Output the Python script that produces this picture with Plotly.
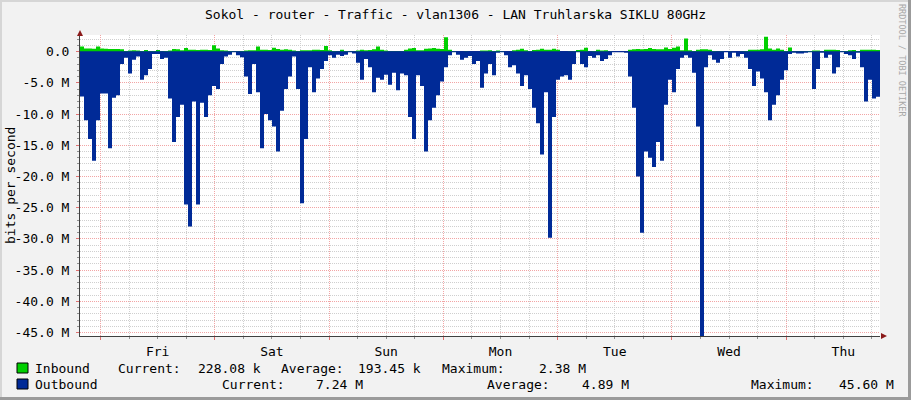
import pandas as pd
import plotly.graph_objects as go

# one week, 200 samples (values in Mbit/s)
START = '2024-01-04 19:42'
STEP = '3024s'

inbound = [
    0.8, 0.5, 0.5, 0.45, 0.8, 0.5, 0.45, 0.4, 0.4, 0.4,
    0.35, 0.1, 0.15, 0.2, 0.15, 0.1, 0.25, 0.1, 0.1, 0.25,
    0.05, 0.1, 0.15, 0.4, 0.35, 0.2, 0.55, 0.3, 0.3, 0.25,
    0.3, 0.3, 0.25, 1.0, 0.5, 0.2, 0.15, 0.1, 0.05, 0.05,
    0.1, 0.15, 0.2, 0.2, 0.8, 0.3, 0.3, 0.25, 0.6, 0.4,
    0.3, 0.35, 0.3, 0.15, 0.1, 0.2, 0.2, 0.2, 0.3, 0.3,
    0.25, 0.9, 0.2, 0.1, 0.05, 0.3, 0.1, 0.05, 0.05, 0.15,
    0.3, 0.2, 0.25, 0.35, 0.8, 0.3, 0.15, 0.05, 0.05, 0.05,
    0.05, 0.3, 0.5, 0.55, 0.2, 0.2, 0.45, 0.5, 0.55, 0.45,
    0.4, 2.3, 0.3, 0.05, 0.0, 0.0, 0.05, 0.0, 0.0, 0.0,
    0.15, 0.15, 0.2, 0.1, 0.15, 0.05, 0.0, 0.0, 0.2, 0.3,
    0.45, 0.2, 0.1, 0.25, 0.3, 0.45, 0.3, 0.3, 0.45, 0.3,
    0.0, 0.0, 0.05, 0.05, 0.25, 0.3, 0.6, 0.05, 0.1, 0.3,
    0.15, 0.2, 0.05, 0.0, 0.0, 0.0, 0.0, 0.3, 0.35, 0.4,
    0.35, 0.4, 0.55, 0.4, 0.35, 0.35, 0.65, 0.4, 0.6, 0.8,
    0.2, 2.1, 0.2, 0.1, 0.3, 0.35, 0.35, 0.3, 0.1, 0.05,
    0.05, 0.0, 0.05, 0.0, 0.0, 0.05, 0.1, 0.3, 0.3, 0.3,
    0.35, 2.38, 0.5, 0.3, 0.5, 0.3, 0.1, 0.65, 0.05, 0.05,
    0.05, 0.05, 0.1, 0.15, 0.15, 0.05, 0.3, 0.3, 0.3, 0.25,
    0.05, 0.1, 0.2, 0.25, 0.1, 0.3, 0.3, 0.3, 0.3, 0.228,
]

outbound = [
    7.2, 11.0, 14.0, 17.5, 11.0, 6.7, 6.7, 15.5, 7.4, 7.0,
    2.0, 1.0, 3.5, 1.3, 0.8, 4.5, 3.8, 2.8, 0.4, 0.4,
    1.2, 1.0, 7.5, 14.5, 10.5, 8.5, 24.5, 28.0, 8.0, 24.5,
    8.2, 10.5, 7.0, 5.5, 6.0, 2.0, 0.8, 0.5, 0.1, 0.6,
    0.9, 4.0, 6.8, 2.0, 6.5, 15.5, 10.0, 11.0, 12.0, 16.0,
    9.5, 6.0, 4.0, 0.8, 6.0, 24.3, 14.0, 2.5, 6.5, 4.3,
    2.8, 1.5, 0.6, 1.0, 0.5, 0.7, 0.5, 0.1, 0.3, 1.8,
    4.5, 1.2, 2.5, 6.5, 4.2, 4.5, 3.7, 5.3, 3.4, 6.2,
    3.5, 3.8, 10.5, 14.0, 3.8, 5.5, 16.0, 11.0, 9.0, 7.0,
    4.8, 2.5, 0.6, 0.1, 0.5, 1.3, 1.0, 0.7, 2.0, 1.5,
    5.8, 3.5, 2.0, 3.8, 0.2, 0.1, 0.6, 2.5, 2.2, 3.5,
    5.5, 3.8, 6.0, 9.0, 11.5, 16.5, 6.5, 29.8, 10.5, 4.5,
    4.0, 3.8, 4.5, 2.0, 0.1, 2.0, 2.5, 0.7, 1.0, 0.6,
    1.5, 1.2, 0.6, 0.1, 0.1, 0.1, 0.2, 4.0, 9.0, 20.0,
    29.0, 16.0, 17.0, 18.5, 14.5, 17.5, 8.5, 4.5, 6.5, 2.8,
    1.0, 0.6, 1.0, 3.4, 12.0, 45.6, 2.5, 0.6, 1.3, 1.8,
    1.2, 0.1, 1.0, 0.2, 0.8, 0.4, 1.0, 2.8, 5.5, 3.2,
    4.3, 6.5, 11.0, 8.5, 7.0, 4.5, 3.0, 0.4, 0.2, 0.3,
    0.3, 0.2, 0.1, 6.0, 2.8, 0.2, 1.0, 0.5, 3.5, 2.5,
    0.1, 0.4, 0.6, 1.2, 0.2, 2.5, 8.0, 4.5, 7.5, 7.24,
]

y_ticks = [0, -5, -10, -15, -20, -25, -30, -35, -40, -45]
y_labels = ['0.0'] + ['%.1f M' % v for v in y_ticks[1:]]

legend_rows = [
    ('Inbound', '#00CF00', [('Current:', 116), ('228.08 k', 196), ('Average:', 279),
                            ('193.45 k', 356), ('Maximum:', 440), ('2.38 M', 537)]),
    ('Outbound', '#002A97', [('Current:', 220), ('7.24 M', 314), ('Average:', 485),
                             ('4.89 M', 580), ('Maximum:', 749), ('45.60 M', 837)]),
]

# sample boundaries; each value holds until the next boundary (rrd style steps)
edges = pd.date_range(START, periods=len(outbound) + 1, freq=STEP)

# plot area in pixels: x 80..880, y 35..336
L, R, T, B = 80, 880, 35, 336


def px(x):
    return (x - L) / (R - L)


def py(y):
    return (B - y) / (B - T)


def steps(values, sign=1):
    vals = [sign * v * 1e6 for v in values]
    return vals + [vals[-1]]


fig = go.Figure()
fig.add_trace(go.Scatter(
    x=edges, y=steps(inbound),
    mode='lines', line=dict(width=0, shape='hv', color='#00CF00'),
    fill='tozeroy', fillcolor='#00CF00', name='Inbound', hoverinfo='skip',
))
fig.add_trace(go.Scatter(
    x=edges, y=steps(outbound, -1),
    mode='lines', line=dict(width=0, shape='hv', color='#002A97'),
    fill='tozeroy', fillcolor='#002A97', name='Outbound', hoverinfo='skip',
))

red_grid = '#F2A5A5'
grey_grid = '#CFCFCF'

fig.update_layout(
    width=911, height=400,
    margin=dict(l=L, r=911 - R, t=T, b=400 - B),
    paper_bgcolor='#F2F2F2',
    plot_bgcolor='#FFFFFF',
    showlegend=False,
    font=dict(family='DejaVu Sans Mono', size=13, color='#000000'),
    title=dict(
        text='Sokol - router - Traffic - vlan1306 - LAN Truhlarska SIKLU 80GHz',
        x=0.5, xref='container', xanchor='center',
        y=1 - 14 / 400, yref='container', yanchor='middle',
        font=dict(size=13, color='#000000'),
    ),
    xaxis=dict(
        type='date',
        range=[edges[0], edges[-1]],
        tickmode='linear', tick0='2024-01-05', dtick=86400000,
        tickformat='%a', ticklabelmode='period',
        showgrid=True, gridcolor=red_grid, griddash='1px,1px', gridwidth=1,
        ticks='outside', ticklen=3, tickcolor='#E07070',
        showline=True, linecolor='#404040', linewidth=1,
        zeroline=False,
        minor=dict(tick0='2024-01-05', dtick=21600000, showgrid=True,
                   gridcolor=grey_grid, griddash='1px,1px',
                   ticks='outside', ticklen=2, tickcolor='#909090'),
    ),
    yaxis=dict(
        range=[-45.55e6, 2.65e6],
        tickmode='array', tickvals=[v * 1e6 for v in y_ticks], ticktext=y_labels,
        showgrid=True, gridcolor=red_grid, griddash='1px,1px', gridwidth=1,
        ticks='outside', ticklen=3, tickcolor='#E07070',
        ticklabelstandoff=4,
        showline=True, linecolor='#404040', linewidth=1,
        zeroline=True, zerolinecolor='#0F2A8A', zerolinewidth=1,
        minor=dict(tick0=0, dtick=1e6, showgrid=True,
                   gridcolor=grey_grid, griddash='1px,1px',
                   ticks='outside', ticklen=2, tickcolor='#909090'),
    ),
)

shapes = []
# axis arrows
shapes.append(dict(type='path', xref='paper', yref='paper',
                   path='M %f,%f L %f,%f L %f,%f Z' % (px(80), py(30), px(77), py(36), px(83), py(36)),
                   fillcolor='#8B1A1A', line=dict(width=0)))
shapes.append(dict(type='path', xref='paper', yref='paper',
                   path='M %f,%f L %f,%f L %f,%f Z' % (px(887), py(336), px(881), py(333), px(881), py(339)),
                   fillcolor='#8B1A1A', line=dict(width=0)))
# frame shading
shapes.append(dict(type='rect', xref='paper', yref='paper', layer='above',
                   x0=px(908), x1=px(911), y0=py(400), y1=py(0),
                   fillcolor='#9B9B9B', line=dict(width=0)))
shapes.append(dict(type='rect', xref='paper', yref='paper', layer='above',
                   x0=px(0), x1=px(911), y0=py(400), y1=py(397),
                   fillcolor='#9B9B9B', line=dict(width=0)))
shapes.append(dict(type='rect', xref='paper', yref='paper', layer='above',
                   x0=px(0), x1=px(2), y0=py(397), y1=py(0),
                   fillcolor='#D6D6D6', line=dict(width=0)))
shapes.append(dict(type='rect', xref='paper', yref='paper', layer='above',
                   x0=px(0), x1=px(908), y0=py(2), y1=py(0),
                   fillcolor='#D6D6D6', line=dict(width=0)))

annotations = [
    dict(text='bits per second', xref='paper', yref='paper', x=px(10), y=py(186),
         textangle=-90, showarrow=False, xanchor='center', yanchor='middle',
         font=dict(size=13, color='#000000')),
    dict(text='RRDTOOL / TOBI OETIKER', xref='paper', yref='paper', x=px(902), y=py(60),
         textangle=90, showarrow=False, xanchor='center', yanchor='middle',
         font=dict(size=8.5, color='#A8A8A8')),
]

row_y = [368, 384]
for (name, color, items), ry in zip(legend_rows, row_y):
    shapes.append(dict(type='rect', xref='paper', yref='paper',
                       x0=px(17), x1=px(28), y0=py(ry + 5), y1=py(ry - 5),
                       fillcolor=color, line=dict(color='#000000', width=1)))
    annotations.append(dict(text=name, xref='paper', yref='paper', x=px(33), y=py(ry),
                            xanchor='left', yanchor='middle', showarrow=False))
    for label, xpos in items:
        annotations.append(dict(text=label, xref='paper', yref='paper', x=px(xpos), y=py(ry),
                                xanchor='left', yanchor='middle', showarrow=False))

fig.update_layout(shapes=shapes, annotations=annotations)

# the page body has a default margin; remove it so the figure sits at the top-left corner
fig.write_html('out.html', config={'displayModeBar': False},
               post_script="document.body.style.margin='0px';")
